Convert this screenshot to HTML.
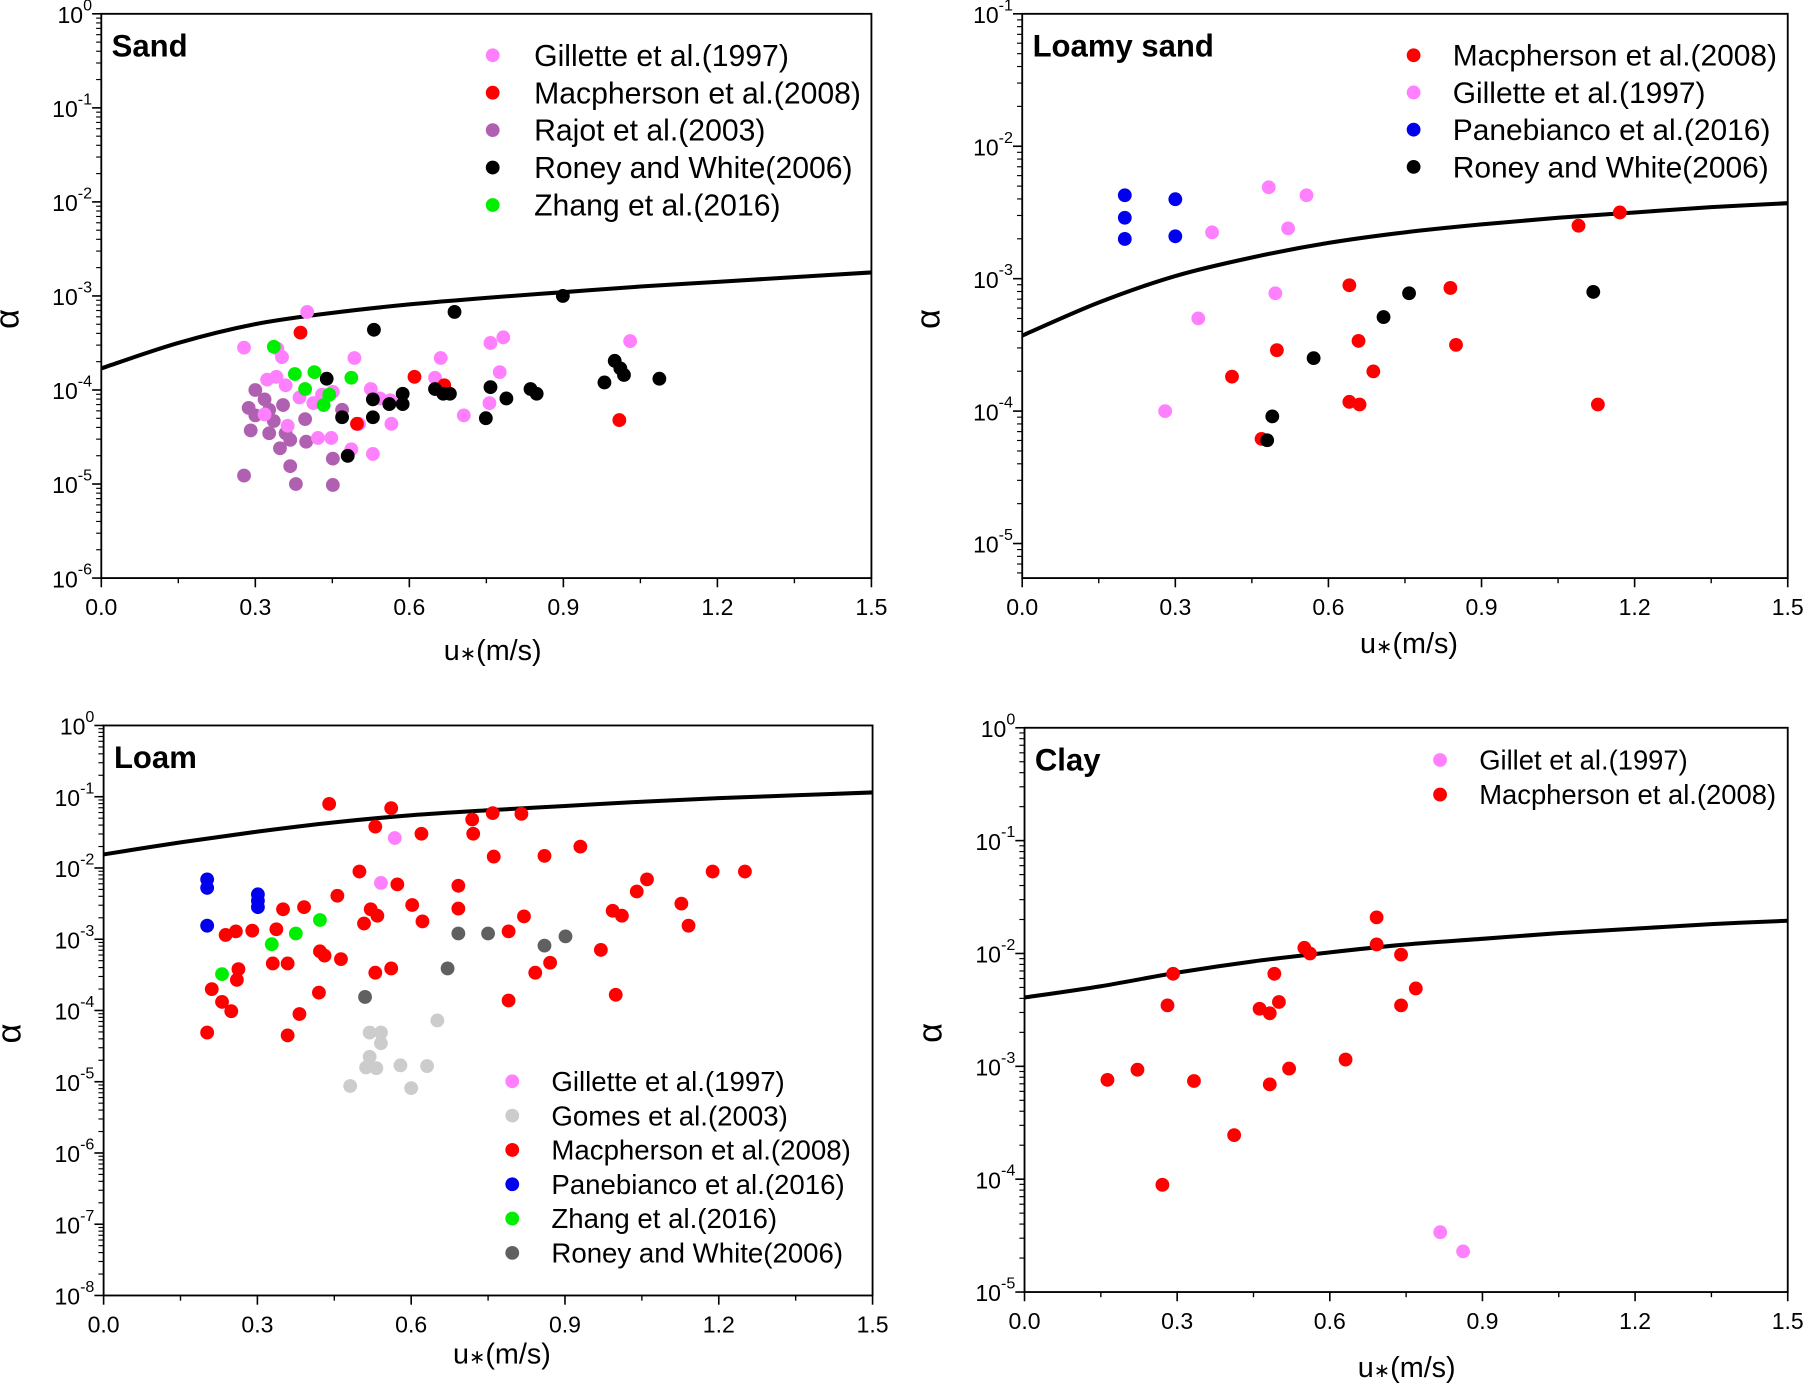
<!DOCTYPE html>
<html><head><meta charset="utf-8"><style>
html,body{margin:0;padding:0;background:#fff}
svg{display:block}
text{font-family:"Liberation Sans",Arial,sans-serif;fill:#000}
</style></head><body>
<svg id="fig" width="1805" height="1383" viewBox="0 0 1568 1201" preserveAspectRatio="none" xmlns="http://www.w3.org/2000/svg"></svg>
<script>
// ---------- DATA ----------
const xTicks = [0,0.3,0.6,0.9,1.2,1.5];
const xTickLabels = ["0.0","0.3","0.6","0.9","1.2","1.5"];
const curveU = [0,0.15,0.3,0.45,0.6,0.75,0.9,1.05,1.2,1.35,1.5];
const sandCurve = [-3.77,-3.50,-3.30,-3.18,-3.09,-3.02,-2.96,-2.90,-2.85,-2.80,-2.75];
const loamySandCurve = [-3.43,-3.18,-2.98,-2.84,-2.73,-2.65,-2.59,-2.54,-2.50,-2.46,-2.43];
const loamCurve = [-1.81,-1.64,-1.49,-1.36,-1.26,-1.19,-1.13,-1.07,-1.02,-0.98,-0.94];
const clayCurve = [-2.39,-2.29,-2.17,-2.07,-1.99,-1.92,-1.87,-1.82,-1.78,-1.74,-1.71];

const sandGilletteU = [0.278,0.401,0.343,0.352,0.323,0.341,0.359,0.386,0.413,0.430,0.451,0.493,0.525,0.543,0.563,0.661,0.650,0.758,0.783,0.776,0.756,0.706,0.565,0.502,0.448,0.422,0.487,0.529,0.363,0.318,1.03];
const sandGilletteA = [-3.55,-3.17,-3.56,-3.65,-3.89,-3.86,-3.95,-4.08,-4.14,-4.05,-4.02,-3.66,-3.99,-4.09,-4.11,-3.66,-3.87,-3.50,-3.44,-3.81,-4.14,-4.27,-4.36,-4.36,-4.51,-4.51,-4.63,-4.68,-4.38,-4.26,-3.48];
const sandMacU = [0.388,0.610,0.668,0.498,1.009];
const sandMacA = [-3.39,-3.86,-3.95,-4.36,-4.32];
const sandRajotU = [0.278,0.287,0.291,0.300,0.300,0.327,0.327,0.336,0.348,0.359,0.354,0.368,0.379,0.397,0.399,0.368,0.451,0.451,0.469,0.318];
const sandRajotA = [-4.91,-4.19,-4.43,-4.00,-4.27,-4.21,-4.46,-4.33,-4.62,-4.46,-4.16,-4.81,-5.00,-4.31,-4.55,-4.53,-4.73,-5.01,-4.21,-4.10];
const sandRoneyU = [0.531,0.688,0.899,0.439,0.469,0.480,0.529,0.529,0.561,0.587,0.587,0.650,0.666,0.679,0.758,0.749,0.789,0.836,0.848,0.980,1.000,1.011,1.018,1.087];
const sandRoneyA = [-3.36,-3.17,-3.00,-3.88,-4.29,-4.70,-4.10,-4.29,-4.15,-4.15,-4.04,-3.99,-4.04,-4.04,-3.97,-4.30,-4.09,-3.99,-4.04,-3.92,-3.69,-3.77,-3.84,-3.88];
const sandZhangU = [0.336,0.377,0.397,0.415,0.433,0.444,0.487];
const sandZhangA = [-3.54,-3.83,-3.99,-3.81,-4.16,-4.05,-3.87];

const lsMacU = [1.171,1.090,0.641,0.839,0.659,0.499,0.850,0.411,0.688,0.641,0.661,0.469,1.128];
const lsMacA = [-2.50,-2.60,-3.05,-3.07,-3.47,-3.54,-3.50,-3.74,-3.70,-3.93,-3.95,-4.21,-3.95];
const lsGilletteU = [0.483,0.557,0.521,0.372,0.496,0.345,0.280];
const lsGilletteA = [-2.31,-2.37,-2.62,-2.65,-3.11,-3.30,-4.00];
const lsPaneU = [0.201,0.201,0.201,0.300,0.300];
const lsPaneA = [-2.37,-2.54,-2.70,-2.40,-2.68];
const lsRoneyU = [1.119,0.758,0.708,0.571,0.490,0.480];
const lsRoneyA = [-3.10,-3.11,-3.29,-3.60,-4.04,-4.22];

const loamGilletteU = [0.568,0.541];
const loamGilletteA = [-1.58,-2.21];
const loamGomesU = [0.651,0.519,0.541,0.541,0.519,0.512,0.532,0.579,0.631,0.481,0.600];
const loamGomesA = [-4.14,-4.31,-4.31,-4.46,-4.65,-4.80,-4.81,-4.77,-4.78,-5.06,-5.09];
const loamMacU = [0.440,0.561,0.530,0.620,0.759,0.815,0.719,0.721,0.499,0.573,0.761,0.860,0.930,0.692,1.060,1.127,0.993,1.011,1.188,0.456,0.521,0.602,0.534,0.508,0.622,0.692,0.391,0.337,0.820,0.790,1.141,0.350,0.258,0.238,0.290,1.251,0.422,0.431,0.463,0.263,0.260,0.330,0.359,0.530,0.561,0.970,0.871,0.842,0.420,0.211,0.231,0.249,0.202,0.359,0.382,0.790,0.999,1.04];
const loamMacA = [-1.10,-1.16,-1.42,-1.52,-1.23,-1.24,-1.32,-1.52,-2.05,-2.23,-1.84,-1.83,-1.70,-2.25,-2.16,-2.50,-2.60,-2.67,-2.05,-2.39,-2.58,-2.52,-2.67,-2.78,-2.75,-2.57,-2.55,-2.86,-2.68,-2.89,-2.81,-2.58,-2.89,-2.94,-2.88,-2.05,-3.17,-3.23,-3.28,-3.42,-3.57,-3.34,-3.34,-3.47,-3.41,-3.15,-3.33,-3.47,-3.75,-3.70,-3.88,-4.01,-4.31,-4.35,-4.05,-3.86,-3.78,-2.33];
const loamPaneU = [0.202,0.202,0.301,0.301,0.202,0.301];
const loamPaneA = [-2.16,-2.28,-2.37,-2.55,-2.81,-2.46];
const loamZhangU = [0.422,0.375,0.328,0.231];
const loamZhangA = [-2.73,-2.92,-3.07,-3.49];
const loamRoneyU = [0.692,0.750,0.901,0.860,0.671,0.510];
const loamRoneyA = [-2.92,-2.92,-2.96,-3.09,-3.41,-3.81];

const clayGilletU = [0.817,0.862];
const clayGilletA = [-4.47,-4.64];
const clayMacU = [0.692,0.692,0.550,0.561,0.740,0.292,0.491,0.769,0.500,0.281,0.740,0.462,0.482,0.631,0.520,0.222,0.163,0.333,0.482,0.412,0.271];
const clayMacA = [-1.68,-1.92,-1.95,-2.00,-2.01,-2.18,-2.18,-2.31,-2.43,-2.46,-2.46,-2.49,-2.53,-2.94,-3.02,-3.03,-3.12,-3.13,-3.16,-3.61,-4.05];

// ---------- RENDER ----------
const NS = "http://www.w3.org/2000/svg";
const svg = document.getElementById('fig');
function mk(tag, attrs, parent){const e=document.createElementNS(NS,tag);for(const k in attrs)e.setAttribute(k,attrs[k]);(parent||svg).appendChild(e);return e;}
const C = {pink:'#ff80ff',red:'#ff0000',purple:'#b060b0',black:'#000000',green:'#00ee00',blue:'#0000ee',lgray:'#cccccc',dgray:'#606060'};

const panels = [
 {name:'sand',title:'Sand',x0:88,x1:757,y0:12,y1:502,yMax:0,yMin:-6,curve:sandCurve,
  series:[['Gillette et al.(1997)',C.pink,sandGilletteU,sandGilletteA],['Macpherson et al.(2008)',C.red,sandMacU,sandMacA],['Rajot et al.(2003)',C.purple,sandRajotU,sandRajotA],['Roney and White(2006)',C.black,sandRoneyU,sandRoneyA],['Zhang et al.(2016)',C.green,sandZhangU,sandZhangA]],
  drawOrder:[2,0,1,4,3],leg:{mx:428,tx:464,y:48,dy:32.5,fs:26.2},xl:{x:428,y:573}},
 {name:'loamy-sand',title:'Loamy sand',x0:888,x1:1553,y0:12,y1:502,yMax:-1,yMin:-1-490/115,curve:loamySandCurve,
  series:[['Macpherson et al.(2008)',C.red,lsMacU,lsMacA],['Gillette et al.(1997)',C.pink,lsGilletteU,lsGilletteA],['Panebianco et al.(2016)',C.blue,lsPaneU,lsPaneA],['Roney and White(2006)',C.black,lsRoneyU,lsRoneyA]],
  drawOrder:[0,1,2,3],leg:{mx:1228,tx:1262,y:48,dy:32.3,fs:26},xl:{x:1224,y:567}},
 {name:'loam',title:'Loam',x0:90,x1:758,y0:630,y1:1125,yMax:0,yMin:-8,curve:loamCurve,
  series:[['Gillette et al.(1997)',C.pink,loamGilletteU,loamGilletteA],['Gomes et al.(2003)',C.lgray,loamGomesU,loamGomesA],['Macpherson et al.(2008)',C.red,loamMacU,loamMacA],['Panebianco et al.(2016)',C.blue,loamPaneU,loamPaneA],['Zhang et al.(2016)',C.green,loamZhangU,loamZhangA],['Roney and White(2006)',C.dgray,loamRoneyU,loamRoneyA]],
  drawOrder:[1,2,0,3,4,5],leg:{mx:445,tx:479,y:939,dy:29.8,fs:24},xl:{x:436,y:1184}},
 {name:'clay',title:'Clay',x0:890,x1:1553,y0:632,y1:1122,yMax:0,yMin:-5,curve:clayCurve,
  series:[['Gillet et al.(1997)',C.pink,clayGilletU,clayGilletA],['Macpherson et al.(2008)',C.red,clayMacU,clayMacA]],
  drawOrder:[0,1],leg:{mx:1251,tx:1285,y:660,dy:30,fs:23.8},xl:{x:1222,y:1196}}
];

panels.forEach(p=>{
  const g = mk('g',{});
  
  
  const sx = u => p.x0 + (u-0)/(1.5-0)*(p.x1-p.x0);
  const sy = l => p.y0 + (p.yMax-l)/(p.yMax-p.yMin)*(p.y1-p.y0);
  const fr = mk('rect',{x:p.x0,y:p.y0,width:p.x1-p.x0,height:p.y1-p.y0,fill:'none',stroke:'#000','stroke-width':1.6},g);
  
  
  xTicks.forEach((t,i)=>{
    mk('line',{x1:sx(t),x2:sx(t),y1:p.y1,y2:p.y1+8,stroke:'#000','stroke-width':1.4},g);
    if(i<xTicks.length-1) mk('line',{x1:sx(t+0.15),x2:sx(t+0.15),y1:p.y1,y2:p.y1+4.5,stroke:'#000','stroke-width':1.2},g);
    const tx = mk('text',{x:sx(t),y:p.y1+32,'font-size':20,'text-anchor':'middle'},g);
    tx.textContent = xTickLabels[i];
    
    
  });
  const eTop = Math.floor(p.yMax);
  for(let e=eTop; e>=Math.floor(p.yMin); e--){
    if(e>=p.yMin-1e-9){
      mk('line',{x1:p.x0-8,x2:p.x0,y1:sy(e),y2:sy(e),stroke:'#000','stroke-width':1.4},g);
      const tl = mk('text',{x:p.x0-8,y:sy(e)+8,'font-size':20,'text-anchor':'end'},g);
      
      
      const t1 = mk('tspan',{},tl); t1.textContent='10';
      const t2 = mk('tspan',{'font-size':14,dy:-11},tl); t2.textContent=String(e);
    }
    for(let m=2;m<=9;m++){
      const l = e-1+Math.log10(m);
      if(l>p.yMin && l<p.yMax && e-1>=Math.floor(p.yMin)) mk('line',{x1:p.x0-4.5,x2:p.x0,y1:sy(l),y2:sy(l),stroke:'#000','stroke-width':1},g);
    }
  }
  const ti = mk('text',{x:p.x0+9,y:p.y0+37,'font-size':27,'font-weight':'bold'},g);
  ti.textContent = p.title;
  
  
  const xl = mk('text',{x:p.xl.x,y:p.xl.y,'font-size':25,'text-anchor':'middle'},g);
  
  
  const a1 = mk('tspan',{},xl); a1.textContent='u';
  const a2 = mk('tspan',{'font-size':17},xl); a2.textContent='\u2217';
  const a3 = mk('tspan',{},xl); a3.textContent='(m/s)';
  const yc = (p.y0+p.y1)/2 + 20;
  const yl = mk('text',{x:p.x0-72,y:yc,'font-size':30,'text-anchor':'middle',transform:`rotate(-90 ${p.x0-72} ${yc})`},g);
  yl.textContent = '\u03b1';
  
  
  const pts = curveU.map((u,i)=>[sx(u),sy(p.curve[i])]);
  let d = `M${pts[0][0]},${pts[0][1]}`;
  for(let i=0;i<pts.length-1;i++){
    const p0=pts[Math.max(0,i-1)],p1=pts[i],p2=pts[i+1],p3=pts[Math.min(pts.length-1,i+2)];
    d+=` C${p1[0]+(p2[0]-p0[0])/6},${p1[1]+(p2[1]-p0[1])/6} ${p2[0]-(p3[0]-p1[0])/6},${p2[1]-(p3[1]-p1[1])/6} ${p2[0]},${p2[1]}`;
  }
  const cv = mk('path',{d:d,fill:'none',stroke:'#000','stroke-width':3.5},g);
  
  
  p.drawOrder.forEach(si=>{
    const s = p.series[si];
    const sg = mk('g',{},g);
    
    
    s[2].forEach((u,k)=>{
      const c = mk('circle',{cx:sx(u),cy:sy(s[3][k]),r:6,fill:s[1]},sg);
      
      
    });
  });
  p.series.forEach((s,i)=>{
    const y = p.leg.y + i*p.leg.dy;
    const lg = mk('g',{},g);
    
    
    mk('circle',{cx:p.leg.mx,cy:y,r:6,fill:s[1]},lg);
    const t = mk('text',{x:p.leg.tx,y:y+p.leg.fs*0.35,'font-size':p.leg.fs},lg);
    t.textContent = s[0];
  });
});
</script>
</body></html>
